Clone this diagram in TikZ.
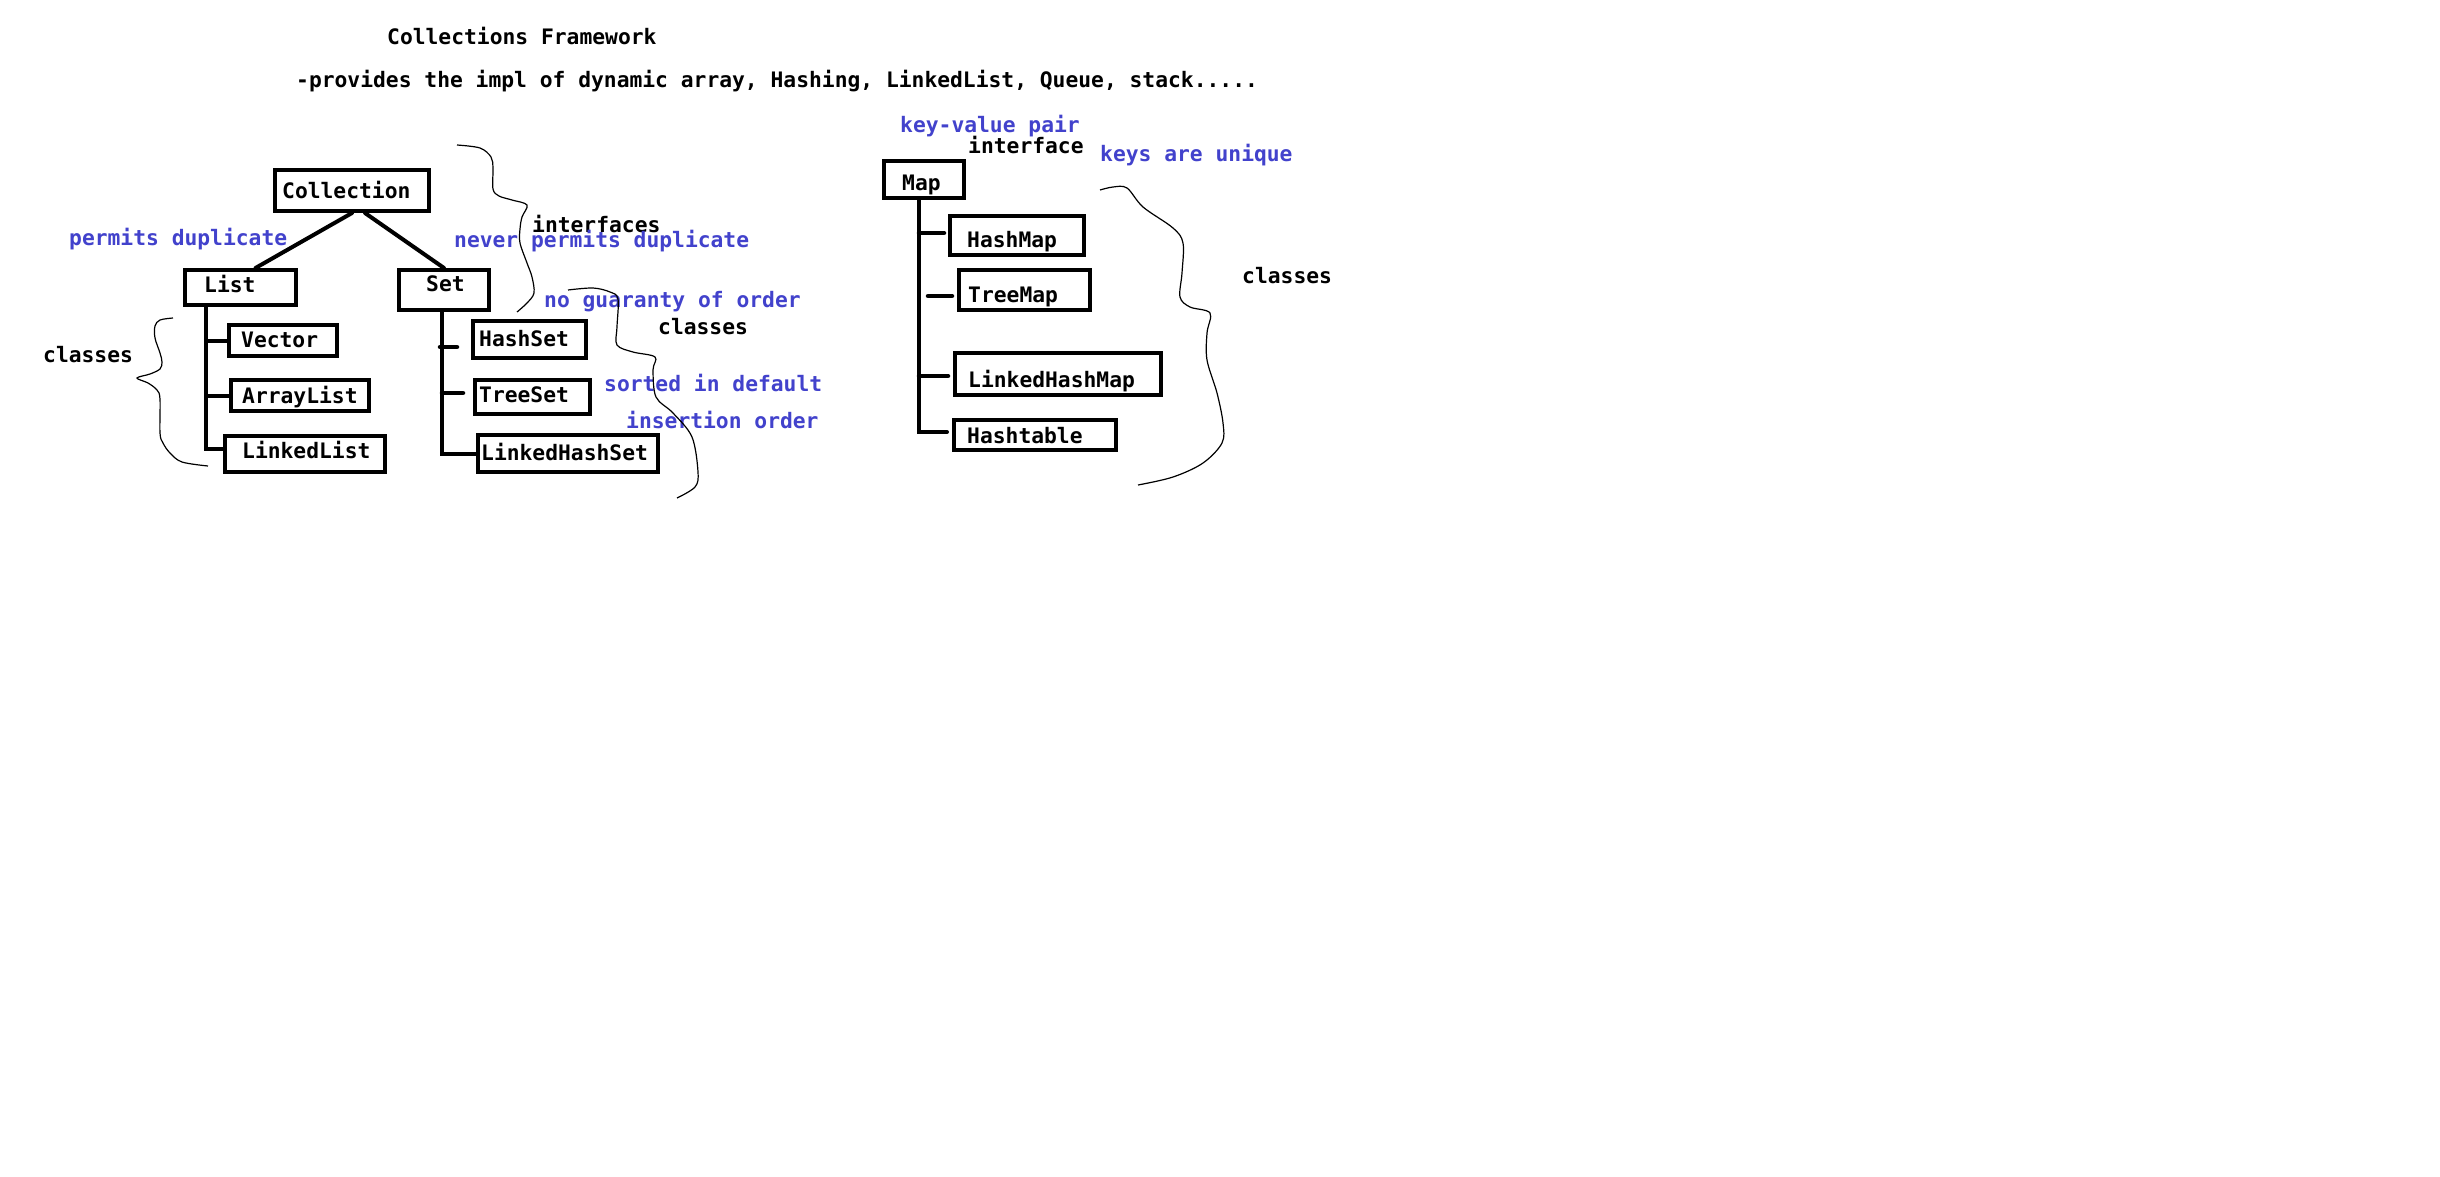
\documentclass[tikz,border=0pt]{standalone}
\usepackage{fontspec}
\setmainfont{DejaVu Sans Mono}
\usetikzlibrary{calc}
\definecolor{noteblue}{RGB}{66,66,204}
\tikzset{
  box/.style={draw=black, line width=4pt, inner sep=0pt},
  txt/.style={anchor=base west, inner sep=0pt, text=black, font=\fontsize{21.3}{25}\selectfont\bfseries},
  note/.style={txt, text=noteblue},
  conn/.style={draw=black, line width=4pt, line cap=round},
  stub/.style={draw=black, line width=4.5pt, line cap=round},
  brace/.style={draw=black, line width=1.2pt, smooth, tension=0.55}
}
\begin{document}
\begin{tikzpicture}[x=1pt, y=-1pt]
\useasboundingbox[fill=white] (0,0) rectangle (2440,1176);

% titles
\node[txt] (title) at (387,44) {Collections Framework};
\node[txt] (provides) at (296,87) {-provides the impl of dynamic array, Hashing, LinkedList, Queue, stack.....};

% Collection tree boxes
\node[box, minimum width=154pt, minimum height=41pt] (coll) at (352,190.5) {};
\node[box, minimum width=111pt, minimum height=35pt] (list) at (240.5,287.5) {};
\node[box, minimum width=90pt, minimum height=40pt] (set) at (444,290) {};
\node[box, minimum width=108pt, minimum height=31pt] (vector) at (283,340.5) {};
\node[box, minimum width=138pt, minimum height=31pt] (arraylist) at (300,395.5) {};
\node[box, minimum width=160pt, minimum height=36pt] (linkedlist) at (305,454) {};
\node[box, minimum width=113pt, minimum height=37pt] (hashset) at (529.5,339.5) {};
\node[box, minimum width=115pt, minimum height=34pt] (treeset) at (532.5,397) {};
\node[box, minimum width=180pt, minimum height=37pt] (lhs) at (568,453.5) {};

\node[txt] (tcoll) at (282,198) {Collection};
\node[txt] (tlist) at (204,292) {List};
\node[txt] (tset) at (426,291) {Set};
\node[txt] (tvector) at (241,347) {Vector};
\node[txt] (tarraylist) at (242,403) {ArrayList};
\node[txt] (tlinkedlist) at (242,458) {LinkedList};
\node[txt] (thashset) at (479,346) {HashSet};
\node[txt] (ttreeset) at (479,402) {TreeSet};
\node[txt] (tlhs) at (481,460) {LinkedHashSet};

% Collection tree connectors
\draw[conn] (coll.south) -- ([xshift=15pt]list.north);
\draw[conn] ([xshift=13pt]coll.south) -- (set.north);

\coordinate (lb) at (206,449);
\draw[conn] ([xshift=-34.5pt]list.south) -- (lb) -- (lb -| linkedlist.west);
\draw[conn] (lb |- vector.west) -- (vector.west);
\draw[conn] (lb |- arraylist.west) -- (arraylist.west);

\coordinate (sb) at (442,453.5);
\draw[conn] ([xshift=-2pt]set.south) -- (sb) -- (lhs.west);
\coordinate (hsstub) at (457,347);
\coordinate (tsstub) at (463,393);
\draw[stub] (hsstub -| 440,0) -- (hsstub);
\draw[stub] (tsstub -| sb) -- (tsstub);

% Map tree boxes
\node[box, minimum width=80pt, minimum height=37pt] (map) at (924,179.5) {};
\node[box, minimum width=134pt, minimum height=39pt] (hashmap) at (1017,235.5) {};
\node[box, minimum width=131pt, minimum height=40pt] (treemap) at (1024.5,290) {};
\node[box, minimum width=206pt, minimum height=42pt] (lhm) at (1058,374) {};
\node[box, minimum width=162pt, minimum height=30pt] (hashtable) at (1035,435) {};

\node[txt] (tmap) at (902,190) {Map};
\node[txt] (thashmap) at (967,247) {HashMap};
\node[txt] (ttreemap) at (968,302) {TreeMap};
\node[txt] (tlhm) at (968,387) {LinkedHashMap};
\node[txt] (thashtable) at (967,443) {Hashtable};

\coordinate (mb) at (919,432);
\coordinate (hmstub) at (944,233);
\coordinate (tmstub0) at (928,296);
\coordinate (tmstub) at (952,296);
\coordinate (lhmstub) at (948,376);
\coordinate (htstub) at (947,432);
\draw[conn] ([xshift=-5pt]map.south) -- (mb) -- (htstub);
\draw[stub] (mb |- hmstub) -- (hmstub);
\draw[stub] (tmstub0) -- (tmstub);
\draw[stub] (mb |- lhmstub) -- (lhmstub);

% notes
\node[note] (n1) at (69,245) {permits duplicate};
\node[txt] (c1) at (43,362) {classes};
\node[txt] (i1) at (532,232) {interfaces};
\node[note] (n2) at (454,247) {never permits duplicate};
\node[note] (n3) at (544,307) {no guaranty of order};
\node[txt] (c2) at (658,334) {classes};
\node[note] (n4) at (604,391) {sorted in default};
\node[note] (n5) at (626,428) {insertion order};
\node[note] (n6) at (900,132) {key-value pair};
\node[txt] (i2) at (968,153) {interface};
\node[note] (n7) at (1100,161) {keys are unique};
\node[txt] (c3) at (1242,283) {classes};

% braces
\draw[brace] plot coordinates {(173,318) (160,320) (155,326) (155,338) (160,353) (162,362) (160,369) (150,374) (137,378) (148,383) (157,390) (160,399) (160,433) (163,443) (170,453) (182,462) (208,466)};
\draw[brace] plot coordinates {(457,145) (480,148) (491,157) (493,168) (493,189) (499,196) (512,200) (527,205) (522,217) (520,229) (520,243) (527,263) (532,277) (534,293) (527,303) (517,312)};
\draw[brace] plot coordinates {(568,290) (593,288) (610,292) (618,299) (617,327) (617,345) (633,352) (655,357) (653,370) (656,397) (673,413) (692,437) (698,472) (695,487) (677,498)};
\draw[brace] plot coordinates {(1100,190) (1113,187) (1127,188) (1143,207) (1173,228) (1183,243) (1182,273) (1180,297) (1190,307) (1210,313) (1207,333) (1207,360) (1217,393) (1223,423) (1222,443) (1203,463) (1173,477) (1138,485)};
\end{tikzpicture}
\end{document}
